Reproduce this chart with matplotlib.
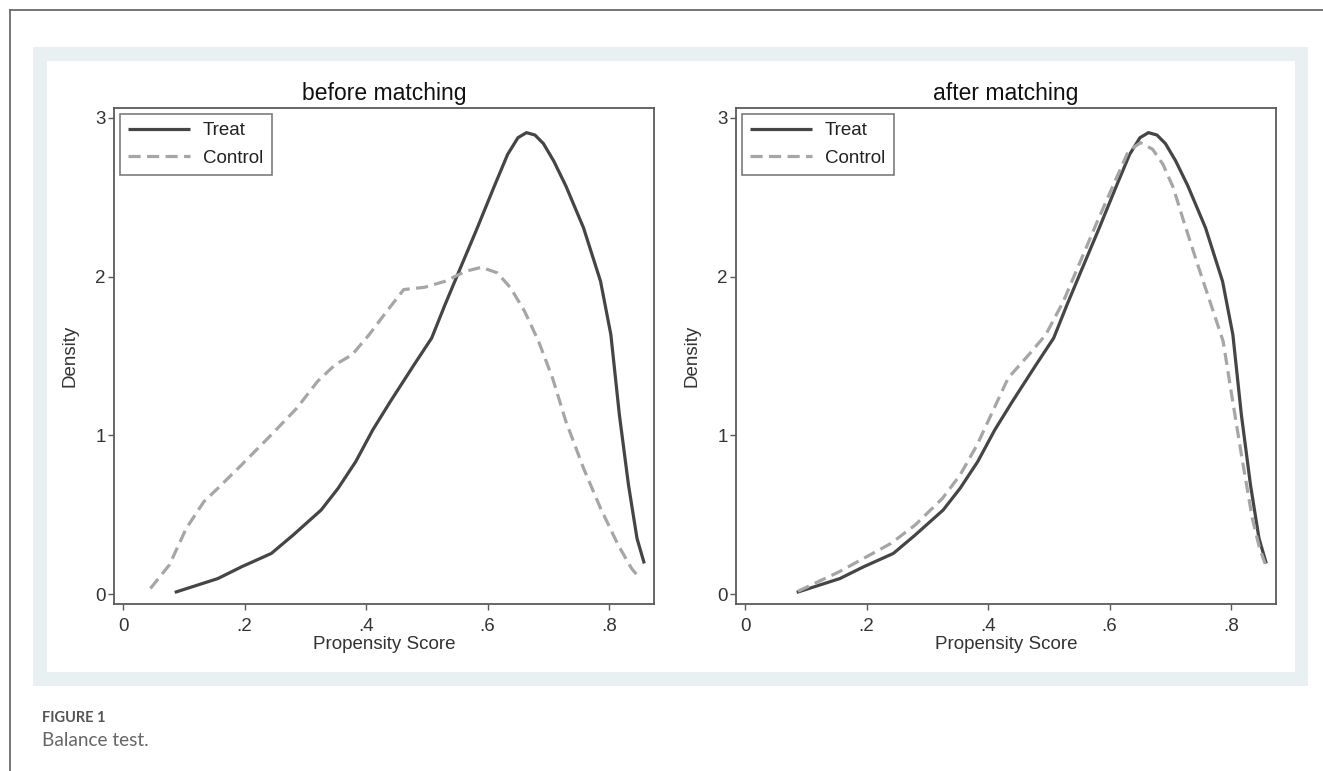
import numpy as np
import matplotlib
matplotlib.use("Agg")
import matplotlib.pyplot as plt
from matplotlib.patches import Rectangle
from matplotlib.lines import Line2D

plt.rcParams['font.family'] = ['Liberation Sans', 'DejaVu Sans']

# Treat density (same treated sample in both panels)
treat_x = [0.085, 0.156, 0.195, 0.244, 0.280, 0.326, 0.354, 0.383, 0.411, 0.440,
           0.479, 0.508, 0.530, 0.553, 0.582, 0.610, 0.633, 0.650, 0.664, 0.678,
           0.692, 0.709, 0.729, 0.758, 0.786, 0.803, 0.817, 0.832, 0.846, 0.858]
treat_y = [0.013, 0.100, 0.174, 0.258, 0.374, 0.531, 0.668, 0.836, 1.035, 1.214,
           1.445, 1.613, 1.823, 2.033, 2.296, 2.558, 2.768, 2.873, 2.905, 2.890,
           2.836, 2.726, 2.569, 2.306, 1.970, 1.634, 1.130, 0.689, 0.353, 0.195]

# Control density before matching
ctrl_before_x = [0.045, 0.076, 0.104, 0.133, 0.156, 0.195, 0.241, 0.286, 0.320, 0.349,
                 0.377, 0.405, 0.434, 0.462, 0.496, 0.530, 0.564, 0.590, 0.616, 0.638,
                 0.661, 0.684, 0.707, 0.729, 0.758, 0.786, 0.815, 0.837, 0.851]
ctrl_before_y = [0.038, 0.185, 0.416, 0.584, 0.668, 0.815, 0.993, 1.172, 1.340, 1.445,
                 1.508, 1.634, 1.781, 1.918, 1.932, 1.970, 2.033, 2.058, 2.023, 1.928,
                 1.781, 1.592, 1.361, 1.088, 0.794, 0.542, 0.311, 0.164, 0.100]

# Control density after matching
ctrl_after_x = [0.087, 0.155, 0.240, 0.280, 0.325, 0.354, 0.382, 0.410, 0.433, 0.467,
                0.495, 0.524, 0.552, 0.580, 0.609, 0.631, 0.651, 0.671, 0.688, 0.705,
                0.722, 0.745, 0.767, 0.787, 0.801, 0.818, 0.835, 0.847, 0.856]
ctrl_after_y = [0.020, 0.143, 0.321, 0.437, 0.605, 0.752, 0.941, 1.172, 1.361, 1.508,
                1.634, 1.844, 2.096, 2.348, 2.600, 2.789, 2.842, 2.800, 2.705, 2.558,
                2.348, 2.075, 1.823, 1.592, 1.256, 0.857, 0.479, 0.290, 0.195]

titles = ["before matching", "after matching"]
x_ticks = [0, 0.2, 0.4, 0.6, 0.8]
x_ticklabels = ["0", ".2", ".4", ".6", ".8"]
y_ticks = [0, 1, 2, 3]

W, H = 1323, 771
fig = plt.figure(figsize=(W / 100, H / 100), dpi=100)


def fx(px):
    return px / W


def fy(py):
    return 1 - py / H


# page frame (left and top rules) and the grey-blue panel
fig.add_artist(Line2D([fx(10), fx(10)], [fy(10), 0], color="#6b6b6b", lw=1.3))
fig.add_artist(Line2D([fx(10), 1], [fy(10), fy(10)], color="#6b6b6b", lw=1.3))
fig.add_artist(Rectangle((fx(33), fy(686)), fx(1308 - 33), (686 - 47) / H,
                         facecolor="#e8f0f2", edgecolor="none", zorder=0))
fig.add_artist(Rectangle((fx(47), fy(672)), fx(1295 - 47), (672 - 61) / H,
                         facecolor="white", edgecolor="none", zorder=0))

treat_col = "#454545"
ctrl_col = "#a6a6a6"
spine_col = "#5a5a5a"

panels = [(114, ctrl_before_x, ctrl_before_y), (736, ctrl_after_x, ctrl_after_y)]
for i, (left_px, cx, cy) in enumerate(panels):
    ax = fig.add_axes([fx(left_px), fy(604), fx(540), (604 - 108) / H])
    ax.plot(treat_x, treat_y, color=treat_col, lw=2.3, label="Treat",
            solid_capstyle="butt")
    ax.plot(cx, cy, color=ctrl_col, lw=2.3, dashes=(3.8, 2.0), label="Control")
    ax.set_xlim(-0.015, 0.874)
    ax.set_ylim(-0.06, 3.06)
    ax.set_xticks(x_ticks)
    ax.set_xticklabels(x_ticklabels)
    ax.set_yticks(y_ticks)
    ax.tick_params(axis="both", direction="out", length=4, width=1.0,
                   color=spine_col, labelsize=13.5, labelcolor="#333333")
    ax.tick_params(axis="x", pad=6)
    ax.tick_params(axis="y", pad=2)
    for sp in ax.spines.values():
        sp.set_color(spine_col)
        sp.set_linewidth(1.3)
    ax.set_title(titles[i], fontsize=16.5, color="#111111", pad=6)
    ax.set_xlabel("Propensity Score", fontsize=13.5, color="#333333", labelpad=1)
    ax.set_ylabel("Density", fontsize=13.5, color="#333333", labelpad=12)
    leg = ax.legend(loc="upper left", fontsize=13.5, fancybox=False, frameon=True,
                    borderaxespad=0.3, handlelength=3.3, handletextpad=0.7,
                    labelspacing=0.55, borderpad=0.45)
    leg.get_frame().set_edgecolor(spine_col)
    leg.get_frame().set_linewidth(1.2)
    for t in leg.get_texts():
        t.set_color("#222222")

fig.text(fx(42), fy(718), "FIGURE 1", fontsize=10.5, fontweight="bold",
         color="#555555", family=["Lato", "DejaVu Sans"], va="center")
fig.text(fx(42), fy(740), "Balance test.", fontsize=13.7,
         color="#666666", family=["Lato", "DejaVu Sans"], va="center")

fig.savefig("out.png", dpi=100)
